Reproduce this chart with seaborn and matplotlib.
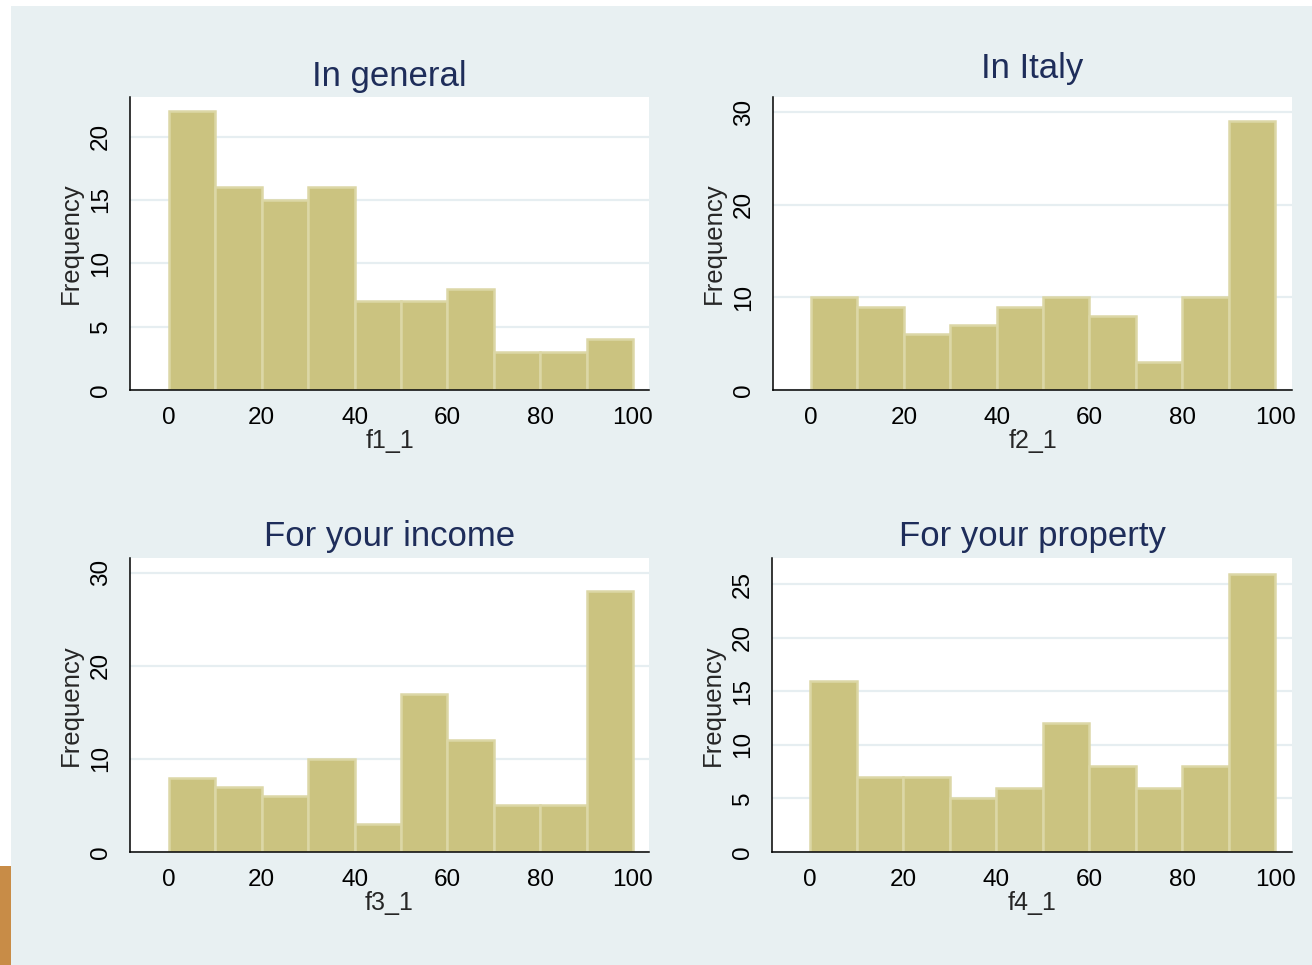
import numpy as np
import pandas as pd
import matplotlib
matplotlib.use("Agg")
import matplotlib.pyplot as plt
from matplotlib.patches import Rectangle
import seaborn as sns

# Histogram bins (percent scale, width 10)
bin_edges = [0, 10, 20, 30, 40, 50, 60, 70, 80, 90, 100]

titles = ["In general", "In Italy", "For your income", "For your property"]
var_names = ["f1_1", "f2_1", "f3_1", "f4_1"]

# Frequencies per bin
counts_f1 = [22, 16, 15, 16, 7, 7, 8, 3, 3, 4]
counts_f2 = [10, 9, 6, 7, 9, 10, 8, 3, 10, 29]
counts_f3 = [8, 7, 6, 10, 3, 17, 12, 5, 5, 28]
counts_f4 = [16, 7, 7, 5, 6, 12, 8, 6, 8, 26]

yticks_f1 = [0, 5, 10, 15, 20]
yticks_f2 = [0, 10, 20, 30]
yticks_f3 = [0, 10, 20, 30]
yticks_f4 = [0, 5, 10, 15, 20, 25]
xticks = [0, 20, 40, 60, 80, 100]

sns.set_style("white")
plt.rcParams["font.family"] = ["Liberation Sans", "DejaVu Sans"]

W, H = 1312, 965
fig = plt.figure(figsize=(W / 100, H / 100), dpi=100)
fig.patch.set_facecolor("white")

BG = "#E8F0F2"
fig.patches.append(Rectangle((11 / W, 0), 1 - 11 / W, 1 - 6 / H,
                             transform=fig.transFigure, facecolor=BG,
                             edgecolor="none", zorder=-10))
fig.patches.append(Rectangle((0, 0), 11 / W, (H - 866) / H,
                             transform=fig.transFigure, facecolor="#C88C47",
                             edgecolor="none", zorder=-10))

FILL = "#CBC380"
EDGE = "#DCD7A6"
GRID = "#E6EEF1"
TITLE_C = "#1E2D5A"


def px_rect(left, top, right, bottom):
    return [left / W, 1 - bottom / H, (right - left) / W, (bottom - top) / H]


panels = [
    dict(rect=px_rect(130, 97, 649, 390), counts=counts_f1, yticks=yticks_f1,
         ylim=(0, 23.13), xlim=(-8.4, 103.45), title_xy=(389.5, 86)),
    dict(rect=px_rect(773, 97, 1292, 390), counts=counts_f2, yticks=yticks_f2,
         ylim=(0, 31.62), xlim=(-8.2, 103.65), title_xy=(1032, 78)),
    dict(rect=px_rect(130, 558, 649, 852), counts=counts_f3, yticks=yticks_f3,
         ylim=(0, 31.58), xlim=(-8.4, 103.45), title_xy=(389.5, 546)),
    dict(rect=px_rect(772, 558, 1292, 852), counts=counts_f4, yticks=yticks_f4,
         ylim=(0, 27.45), xlim=(-8.2, 103.65), title_xy=(1032, 546)),
]

for p, title, name in zip(panels, titles, var_names):
    ax = fig.add_axes(p["rect"])
    ax.set_facecolor("white")
    df = pd.DataFrame({name: bin_edges[:-1], "n": p["counts"]})
    sns.histplot(data=df, x=name, weights="n", bins=bin_edges, ax=ax,
                 color=FILL, edgecolor=EDGE, linewidth=1.8, alpha=1)
    ax.set_xlim(*p["xlim"])
    ax.set_ylim(*p["ylim"])
    ax.set_xticks(xticks)
    ax.set_yticks(p["yticks"])
    ax.set_axisbelow(True)
    ax.yaxis.grid(True, color=GRID, linewidth=1.6)
    ax.xaxis.grid(False)
    for s in ("top", "right"):
        ax.spines[s].set_visible(False)
    for s in ("left", "bottom"):
        ax.spines[s].set_color("black")
        ax.spines[s].set_linewidth(1.1)
    ax.tick_params(axis="both", direction="out", length=7, width=1.1,
                   color="black", labelsize=17.5, labelcolor="black")
    ax.tick_params(axis="x", pad=5)
    ax.tick_params(axis="y", pad=6, labelrotation=90)
    for lab in ax.get_yticklabels():
        lab.set_verticalalignment("center")
    ax.set_xlabel(name, fontsize=18, labelpad=0)
    ax.set_ylabel("Frequency", fontsize=18.5, labelpad=5)
    fig.text(p["title_xy"][0] / W, 1 - p["title_xy"][1] / H, title,
             ha="center", va="baseline", fontsize=25, color=TITLE_C)

fig.savefig("out.png", dpi=100, facecolor=fig.get_facecolor())
